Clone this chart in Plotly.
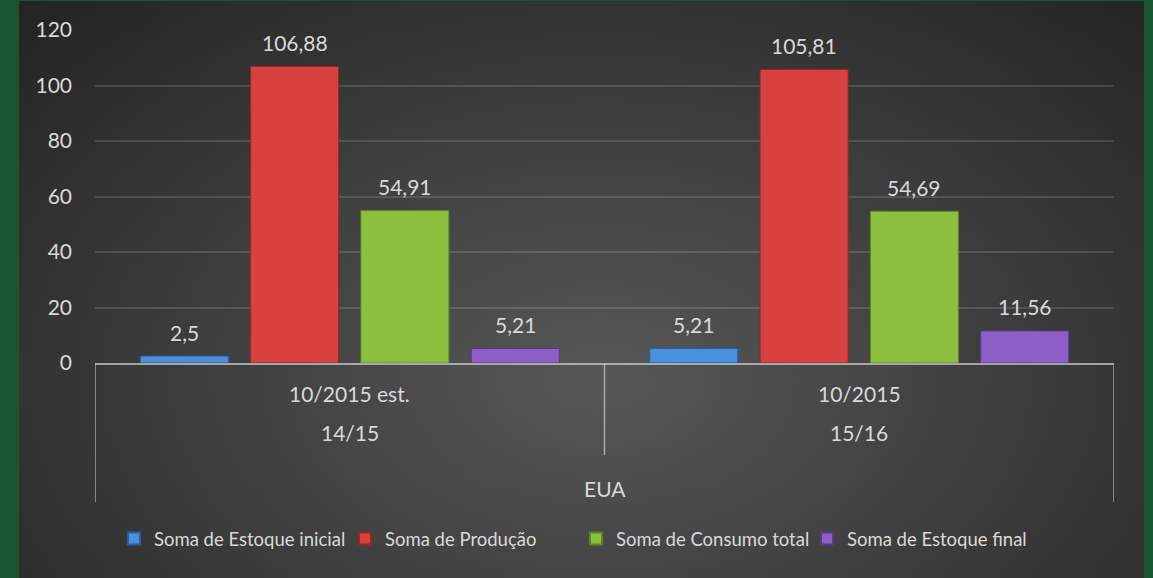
import base64
import struct
import zlib

import numpy as np
import plotly.graph_objects as go

# ---- data ----
periods = ["10/2015 est.", "10/2015"]
seasons = ["14/15", "15/16"]
country = "EUA"
series_names = ["Soma de Estoque inicial", "Soma de Produção",
                "Soma de Consumo total", "Soma de Estoque final"]
estoque_inicial = [2.5, 5.21]
producao = [106.88, 105.81]
consumo_total = [54.91, 54.69]
estoque_final = [5.21, 11.56]
y_ticks = [0, 20, 40, 60, 80, 100, 120]

series_values = [estoque_inicial, producao, consumo_total, estoque_final]
colors = ["#4a8fe0", "#d8413d", "#8dbf3e", "#8d5fc6"]
edge_colors = ["#2c5f9e", "#8e2a27", "#5e8427", "#583a85"]

W, H = 1153, 578
ML, MR, MT, MB = 95, 39, 30, 215
PW, PH = W - ML - MR, H - MT - MB
FONT = "Lato"
TXT = "#d9d9d9"
BARGAP = 0.134
BARGROUPGAP = 0.202


def fmt(v):
    return f"{v:g}".replace(".", ",")


def px_x(x):
    return (x - ML) / PW


def px_y(y):
    return 1 - (y - MT) / PH


# ---- radial gradient panel (decoration), as an inline PNG ----
def gradient_png(w=150, h=78):
    x0, x1, y0, y1 = 19, 1144, 1, 578
    xs = np.linspace(x0, x1, w)
    ys = np.linspace(y0, y1, h)
    dx = (xs[None, :] - 600) / 640.0
    dy = (ys[:, None] - 380) / 420.0
    d = np.clip(np.sqrt(dx ** 2 + dy ** 2) / 1.28, 0, 1)
    g = (88 - 52 * d).astype(np.uint8)
    rgb = np.stack([g, g, g], axis=-1)
    raw = b"".join(b"\x00" + rgb[r].tobytes() for r in range(h))

    def chunk(tag, data):
        c = struct.pack(">I", len(data)) + tag + data
        return c + struct.pack(">I", zlib.crc32(tag + data) & 0xFFFFFFFF)

    png = b"\x89PNG\r\n\x1a\n" + chunk(b"IHDR", struct.pack(">IIBBBBB", w, h, 8, 2, 0, 0, 0))
    png += chunk(b"IDAT", zlib.compress(raw, 9)) + chunk(b"IEND", b"")
    return "data:image/png;base64," + base64.b64encode(png).decode()


fig = go.Figure()

for name, vals, c, ec in zip(series_names, series_values, colors, edge_colors):
    fig.add_trace(go.Bar(
        x=periods, y=vals, name=name,
        marker=dict(color=c, line=dict(color=ec, width=1)),
        hoverinfo="name+y",
    ))

# data labels placed above each bar through the category axis
n = len(series_names)
slot = (1 - BARGAP) / n
annotations = []
for k, vals in enumerate(series_values):
    for i, v in enumerate(vals):
        annotations.append(dict(
            x=i + (k - (n - 1) / 2) * slot, y=v, xref="x", yref="y",
            text=fmt(v), showarrow=False, yanchor="middle", yshift=24,
            font=dict(family=FONT, size=21, color=TXT)))

line_col = "rgba(200,200,200,0.75)"
shapes = [
    dict(type="line", xref="x", yref="paper", x0=-0.5, x1=-0.5, y0=0, y1=px_y(502),
         line=dict(color=line_col, width=1.5)),
    dict(type="line", xref="x", yref="paper", x0=0.5, x1=0.5, y0=0, y1=px_y(455),
         line=dict(color=line_col, width=1.5)),
    dict(type="line", xref="x", yref="paper", x0=1.5, x1=1.5, y0=0, y1=px_y(502),
         line=dict(color=line_col, width=1.5)),
]

for i, (p, s) in enumerate(zip(periods, seasons)):
    annotations.append(dict(x=i, y=px_y(393), xref="x", yref="paper", text=p, showarrow=False,
                            yanchor="middle", font=dict(family=FONT, size=21, color=TXT)))
    annotations.append(dict(x=i, y=px_y(432), xref="x", yref="paper", text=s, showarrow=False,
                            yanchor="middle", font=dict(family=FONT, size=21, color=TXT)))
annotations.append(dict(x=0.5, y=px_y(489), xref="x", yref="paper", text=country, showarrow=False,
                        yanchor="middle", font=dict(family=FONT, size=21, color=TXT)))

fig.update_layout(
    width=W, height=H,
    margin=dict(l=ML, r=MR, t=MT, b=MB, autoexpand=False),
    paper_bgcolor="#1a5531",
    plot_bgcolor="rgba(0,0,0,0)",
    barmode="group", bargap=BARGAP, bargroupgap=BARGROUPGAP,
    xaxis=dict(range=[-0.5, 1.5], showticklabels=False, automargin=False,
               ticks="", showgrid=False, zeroline=False,
               showline=True, linecolor=line_col, linewidth=1.5),
    yaxis=dict(range=[0, 120], tickvals=y_ticks, automargin=False,
               showgrid=True, gridcolor="rgba(255,255,255,0.13)", gridwidth=1.5,
               zeroline=False, showline=False, ticks="", ticklabelstandoff=22,
               tickfont=dict(family=FONT, size=21, color=TXT)),
    showlegend=True,
    legend=dict(orientation="h", x=0.472, xanchor="center", y=px_y(539), yanchor="middle",
                font=dict(family=FONT, size=18.5, color=TXT), bgcolor="rgba(0,0,0,0)",
                itemsizing="constant", entrywidth=186, entrywidthmode="pixels"),
    images=[dict(source=gradient_png(), xref="paper", yref="paper",
                 x=px_x(19), y=px_y(1), sizex=px_x(1144) - px_x(19), sizey=px_y(1) - px_y(578),
                 xanchor="left", yanchor="top", sizing="stretch", layer="below")],
    shapes=shapes, annotations=annotations,
)

fig.write_html("out.html", config={"displayModeBar": False},
               post_script="document.body.style.margin='0';document.body.style.padding='0';")
